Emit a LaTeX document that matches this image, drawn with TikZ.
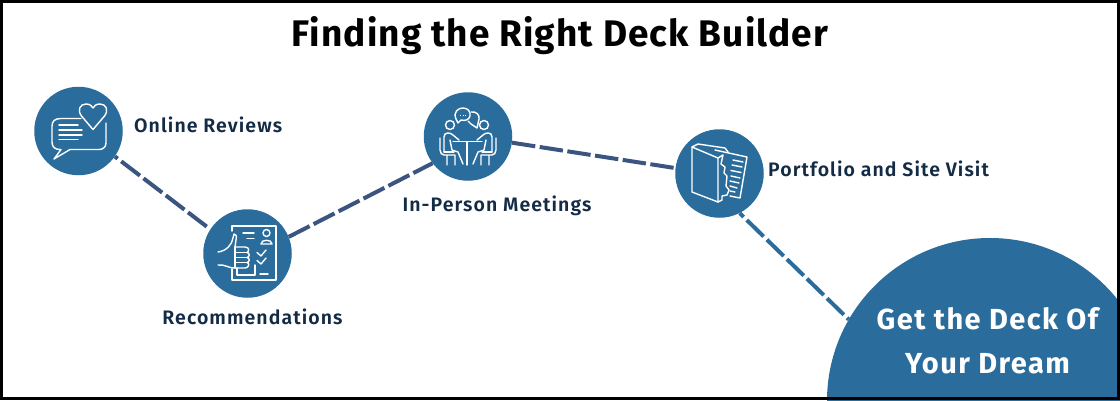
\documentclass[tikz,border=0pt]{standalone}
\usepackage{fontspec}
\setmainfont{Fira Sans}
\newfontfamily\labfont{Fira Sans SemiBold}
\definecolor{discblue}{HTML}{2A6D9C}
\definecolor{dashdark}{HTML}{3C5580}
\definecolor{labelink}{HTML}{142B45}
\tikzset{
  discnode/.style={circle,fill=discblue,minimum size=88.5pt,inner sep=0pt},
  link/.style={line width=4pt,dash pattern=on 23.5pt off 4.5pt,draw=dashdark},
  lastlink/.style={line width=4pt,dash pattern=on 23.5pt off 4.5pt,draw=discblue},
  lab/.style={font=\fontsize{19.5}{22}\labfont\addfontfeature{LetterSpace=5.5},text=labelink,inner sep=0pt},
  icon/.style={draw=white,line width=1.4pt,line join=round,line cap=round},
}
\begin{document}
\begin{tikzpicture}[x=1pt,y=-1pt]
\useasboundingbox (0,0) rectangle (1120,400);
\fill[white] (0,0) rectangle (1120,400);
\node[discnode] (c1) at (78.5,131) {};
\node[discnode] (c2) at (247.5,253.5) {};
\node[discnode] (c3) at (468,136.5) {};
\node[discnode] (c4) at (719.5,173.5) {};
\begin{scope}
\clip (0,0) rectangle (1120,400);
\node[discnode,minimum size=326pt] (c5) at (990,401) {};
\end{scope}
\draw[link,dash phase=20pt] (c1.-35.5) -- (c2.147);
\draw[link] (c2.22) -- (c3.217);
\draw[link] (c3.-8.4) -- (c4.173);
\draw[lastlink,dash phase=18pt] (c4.-63.7) -- (c5.150.5);
\node[font=\fontsize{37}{40}\selectfont\addfontfeature{LetterSpace=3}\bfseries,text=black,inner sep=0pt] (title) at (560,36) {Finding the Right Deck Builder};
\node[lab,anchor=west] (l1) at (134,125) {Online Reviews};
\node[lab] (l2) at (252.5,317) {Recommendations};
\node[lab] (l3) at (497,206) {In-Person Meetings};
\node[lab,anchor=west] (l4) at (768,169) {Portfolio and Site Visit};
\node[font=\fontsize{29}{44}\selectfont\addfontfeature{LetterSpace=5}\bfseries,text=white,align=center,inner sep=0pt] (l5) at (987.5,341) {Get the Deck Of\\Your Dream};
% online reviews icon
\draw[icon] (81,118.5) -- (61,118.5) .. controls (55,118.5) and (52,121) .. (52,126) -- (52,142) .. controls (52,147) and (55,149.5) .. (60,149.5) -- (61,149.5) -- (54,159) -- (70,149.5) -- (99,149.5) .. controls (103,149.5) and (106,147) .. (106,143) -- (106,123);
\draw[icon] (93,129.5) -- (81.5,116) .. controls (77,110) and (80,104) .. (86,104) .. controls (90,104) and (92,106) .. (93,108) .. controls (94,106) and (96,104) .. (100,104) .. controls (106,104) and (109,110) .. (104.5,116) -- cycle;
\draw[icon] (59,125) -- (78,125) (59,130) -- (82,130) (59,135) -- (82,135) (59,139.5) -- (78,139.5);
% recommendations icon
\draw[icon] (232,231) -- (232,226) -- (276,226) -- (276,280) -- (232,280) -- (232,269);
\draw[icon] (237,268) -- (237,275) -- (255,275) -- (255,265);
\draw[icon] (260,274) -- (268,274) (243,233) -- (254,233) (247,238.5) -- (254,238.5);
\draw[icon] (266.5,233) circle (3.5pt);
\draw[icon] (261,244) .. controls (261,239) and (272,239) .. (272,244) -- cycle;
\draw[icon] (257,252.5) -- (261,256) -- (266,250) (257,260.5) -- (261,264) -- (266,258);
\draw[icon] (218,252) .. controls (226,251) and (232,245) .. (233,238) -- (234,234) .. controls (236,234) and (237,236) .. (236,240) -- (235,247) -- (245,247) .. controls (250,247) and (249,252) .. (247,252.5) .. controls (250,253) and (250,257) .. (247,257.5) .. controls (250,258) and (250,262) .. (247,262.5) .. controls (250,263) and (249,268) .. (245,268) -- (236,268) .. controls (230,269) and (225,264) .. (218,265);
\draw[icon] (235,247) -- (235,268) (235,252.5) -- (247,252.5) (235,257.5) -- (247,257.5) (235,262.5) -- (247,262.5);
% meeting icon
\draw[icon] (450,125) circle (4.5pt) (484,125) circle (4.5pt);
\draw[icon] (456,119) .. controls (453,112) and (458,108) .. (463,108) .. controls (468,108) and (471,112) .. (470,116) .. controls (469,120) and (465,121) .. (461,120) -- (458,123) -- cycle;
\draw[icon] (471,112) .. controls (476,111) and (480,115) .. (479,119) -- (477,128) -- (471,124) -- (468,121);
\draw[icon,line width=1.3pt,dash pattern=on 0.8pt off 1.8pt,line cap=butt] (460,115.5) -- (467,115.5);
% chairs
\draw[icon] (440,138) -- (440,150) .. controls (440,153) and (442,155) .. (444,155) -- (455,155) (447,155) -- (447,165) (455,155) -- (455,165);
\draw[icon] (496,138) -- (496,150) .. controls (496,153) and (494,155) .. (492,155) -- (481,155) (489,155) -- (489,165) (481,155) -- (481,165);
% sitters
\draw[icon] (444,152) -- (444,137) .. controls (444,132) and (450,132) .. (453,135) -- (459,140) (450,140) -- (452,150) -- (458,152) -- (463,164);
\draw[icon] (444,152) -- (454,152);
\draw[icon] (492,152) -- (492,137) .. controls (492,132) and (486,132) .. (483,135) -- (477,140) (486,140) -- (484,150) -- (478,152) -- (473,164);
\draw[icon] (492,152) -- (482,152);
% table
\draw[icon] (453,141.5) -- (482,141.5) (467,142) -- (467,165);
% portfolio icon
\draw[icon] (692,147) -- (692,192) -- (718,202) -- (718,158) -- cycle;
\draw[icon] (692,147) -- (698,144) -- (725,148) -- (728,152);
\draw[icon] (718,158) -- (723,155) -- (721,164) -- (725,167) -- (724,173) -- (727,176) -- (726,186) -- (729,190) -- (727,195) -- (722,196) -- (722,200) -- (718,202);
\draw[icon] (715,150) -- (747,157) -- (740,198) -- (730,196);
\draw[icon] (733,160) -- (743,162) (732,165) -- (742,167) (731,170.5) -- (741,172.5) (731,176) -- (740,178) (730,181) -- (739,183) (730,186) -- (737,188) (730,191) -- (735,192);
% frame
\draw[black,line width=3pt] (1.5,1.5) rectangle (1118.5,398.5);
\end{tikzpicture}
\end{document}
